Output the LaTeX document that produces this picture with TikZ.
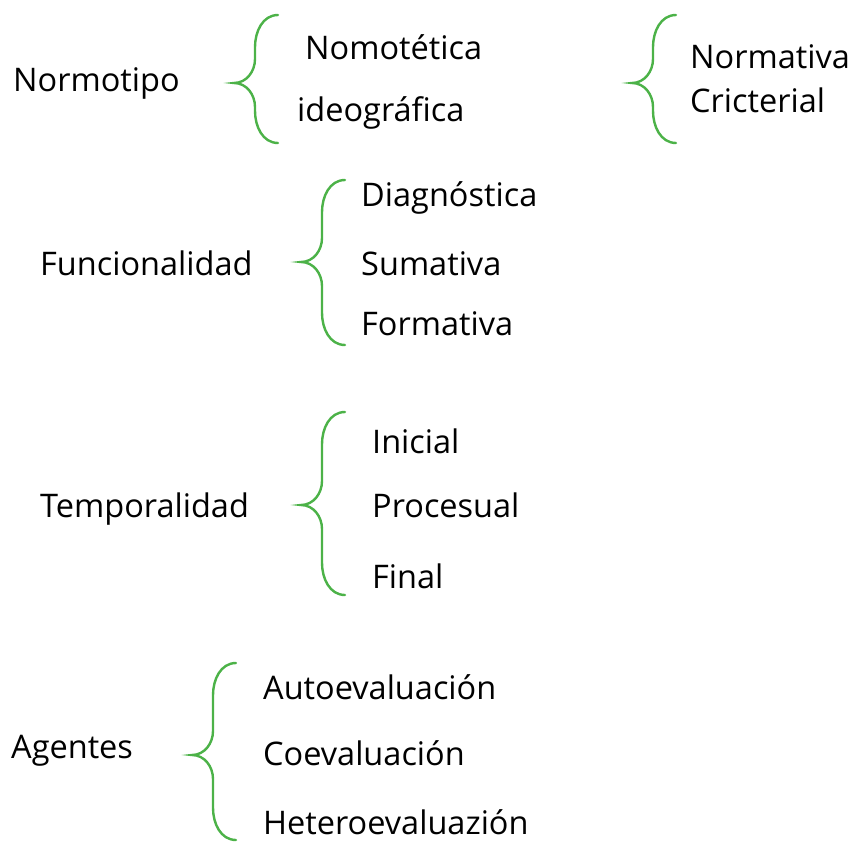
\documentclass[tikz,border=0pt]{standalone}
\usepackage{fontspec}
\setmainfont{Open Sans}
\definecolor{bracegreen}{RGB}{76,178,72}
\newcommand{\gbrace}[4]{% tip x, tip y, top y, bottom y
	\draw[brace] ({#1+44},{#3}) to[out=180,in=90] ({#1+21},{#3+32}) -- ({#1+21},{#2-24})
		to[out=-90,in=0] ({#1},{#2}) to[out=0,in=90] ({#1+21},{#2+24}) -- ({#1+21},{#4-32})
		to[out=-90,in=180] ({#1+44},{#4});}
\begin{document}
\begin{tikzpicture}[
		x=1pt, y=-1pt,
		label/.style={anchor=base west, inner sep=0pt, font=\fontsize{32.5}{38}\selectfont},
		brace/.style={draw=bracegreen, line width=2.4pt, line cap=round}
		]
		\useasboundingbox (0,0) rectangle (853,842);
		
		\node[label] (normotipo) at (13,92) {Normotipo};
		\node[label] (nomotetica) at (305,60) {Nomotética};
		\node[label] (ideografica) at (297,122) {ideográfica};
		\node[label] (normativa) at (690,69) {Normativa};
		\node[label] (cricterial) at (690,113) {Cricterial};
		
		\node[label] (funcionalidad) at (40,275) {Funcionalidad};
		\node[label] (diagnostica) at (361,207) {Diagnóstica};
		\node[label] (sumativa) at (361,275) {Sumativa};
		\node[label] (formativa) at (361,335) {Formativa};
		
		\node[label] (temporalidad) at (40,517) {Temporalidad};
		\node[label] (inicial) at (372,453) {Inicial};
		\node[label] (procesual) at (372,517) {Procesual};
		\node[label] (final) at (372,588) {Final};
		
		\node[label] (agentes) at (11,758) {Agentes};
		\node[label] (auto) at (263,699) {Autoevaluación};
		\node[label] (coev) at (263,765) {Coevaluación};
		\node[label] (hetero) at (263,834) {Heteroevaluazión};
		
		% braces
		\gbrace{234}{83}{15}{143}
		\gbrace{632}{83}{15}{143}
		\gbrace{301}{262}{180}{345}
		\gbrace{301}{505}{412}{595}
		\gbrace{192}{755}{663}{840}
		
	\end{tikzpicture}
\end{document}
